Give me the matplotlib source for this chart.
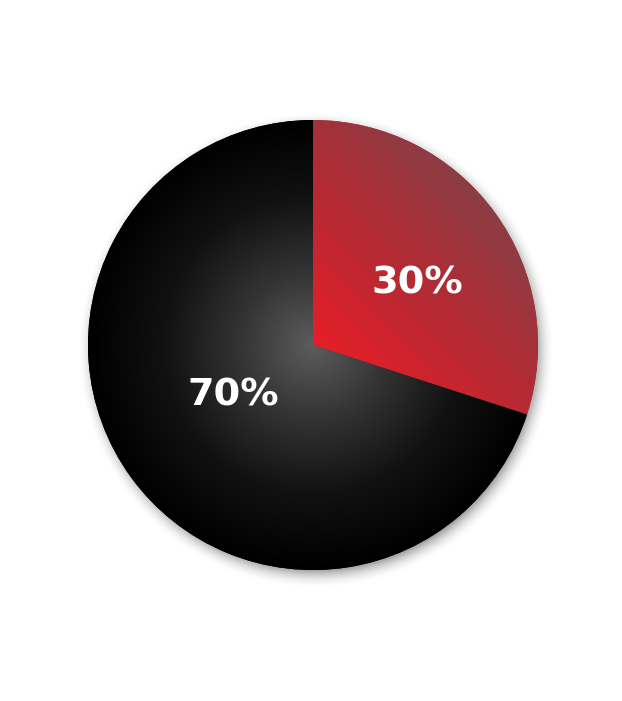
import numpy as np
import matplotlib
matplotlib.use("Agg")
import matplotlib.pyplot as plt
from matplotlib.colors import LinearSegmentedColormap

# data
labels = ['30%', '70%']
shares = [30, 70]
label_pos = [(417, 418), (233, 306)]  # text centres, pixels from bottom-left

W, H = 622, 701
cx, cy, R = 313, 356, 225

fig = plt.figure(figsize=(W / 100, H / 100), dpi=100)
ax = fig.add_axes([0, 0, 1, 1])

# soft drop shadow
yy, xx = np.mgrid[0:H, 0:W] + 0.5
d = np.hypot(xx - (cx + 3), yy - (cy - 5))
a = np.clip(1 - (d - (R - 6)) / 20, 0, 1) ** 2 * 0.4
shadow = np.zeros((H, W, 4))
shadow[..., 3] = a
ax.imshow(shadow, extent=(0, W, 0, H), origin='lower', zorder=1)

wedges, _ = ax.pie(shares, startangle=90, counterclock=False, center=(cx, cy),
                   radius=R, colors=['#c0272d', '#000000'], frame=True,
                   wedgeprops=dict(linewidth=0))
ax.set_xlim(0, W)
ax.set_ylim(0, H)
ax.set_aspect('equal')
ax.axis('off')
for w in wedges:
    w.set_zorder(2)

# red wedge: linear gradient from pie centre towards upper right
t = ((xx - cx) * 0.7 + (yy - cy) * 0.7) / R
t = np.clip(t, 0, 1)
red_cmap = LinearSegmentedColormap.from_list('r', ['#e61e28', '#b52a33', '#8a3e45'])
im_red = ax.imshow(t, extent=(0, W, 0, H), origin='lower', cmap=red_cmap,
                   vmin=0, vmax=1, zorder=3)
im_red.set_clip_path(wedges[0])

# black wedge: radial gradient
r = np.clip(np.hypot(xx - cx, yy - cy) / R, 0, 1)
grey_cmap = LinearSegmentedColormap.from_list('g', ['#5c5c5c', '#333333', '#111111', '#000000'])
im_blk = ax.imshow(r, extent=(0, W, 0, H), origin='lower', cmap=grey_cmap,
                   vmin=0, vmax=1, zorder=3)
im_blk.set_clip_path(wedges[1])

for lab, (tx, ty) in zip(labels, label_pos):
    ax.text(tx, ty, lab, color='white', fontsize=27.5, fontweight='bold',
            family='DejaVu Sans', ha='center', va='center', zorder=5)

fig.savefig('out.png', dpi=100, facecolor='white')
